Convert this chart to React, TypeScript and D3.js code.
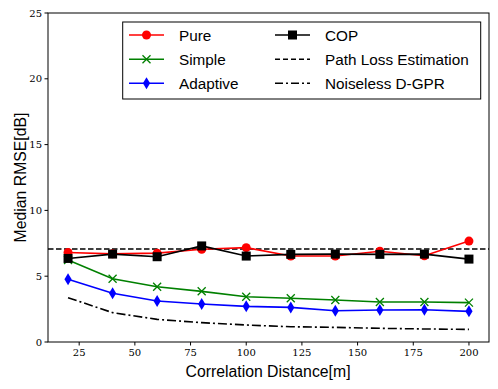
import React from "react";
import * as d3 from "d3";

const xs = [20, 40, 60, 80, 100, 120, 140, 160, 180, 200];
const pure = [6.8, 6.7, 6.75, 7.05, 7.17, 6.53, 6.53, 6.9, 6.55, 7.67];
const cop = [6.35, 6.68, 6.48, 7.3, 6.53, 6.66, 6.68, 6.66, 6.68, 6.3];
const simple = [6.23, 4.81, 4.2, 3.85, 3.44, 3.32, 3.19, 3.04, 3.04, 2.99];
const adaptive = [4.76, 3.7, 3.12, 2.89, 2.71, 2.63, 2.38, 2.43, 2.45, 2.33];
const noiseless = [3.37, 2.23, 1.72, 1.47, 1.29, 1.16, 1.11, 1.04, 0.99, 0.96];
const pathLoss = 7.07;
const xTicks = [25, 50, 75, 100, 125, 150, 175, 200];
const yTicks = [0, 5, 10, 15, 20, 25];

const L = 48, R = 489, T = 13, B = 342;

export default function App() {
  const x = d3.scaleLinear().domain([11, 209]).range([L, R]);
  const y = d3.scaleLinear().domain([0, 25]).range([B, T]);
  const line = (vals: number[]) =>
    d3.line<number>().x((_, i) => x(xs[i])).y((v) => y(v))(vals) || "";
  const serif = "'DejaVu Serif', serif";
  const sans = "'Liberation Sans', Arial, sans-serif";

  const circle = (cx: number, cy: number, k: string) => (
    <circle key={k} cx={cx} cy={cy} r={4.5} fill="red" />
  );
  const square = (cx: number, cy: number, k: string) => (
    <rect key={k} x={cx - 4.5} y={cy - 4.5} width={9} height={9} fill="black" />
  );
  const cross = (cx: number, cy: number, k: string) => (
    <path key={k} d={`M${cx - 4},${cy - 4}L${cx + 4},${cy + 4}M${cx - 4},${cy + 4}L${cx + 4},${cy - 4}`} stroke="green" strokeWidth={1.3} />
  );
  const diamond = (cx: number, cy: number, k: string) => (
    <path key={k} d={`M${cx},${cy - 6}L${cx + 3.6},${cy}L${cx},${cy + 6}L${cx - 3.6},${cy}Z`} fill="blue" />
  );

  const lg = [
    { lab: "Pure", col: "red", dash: "", mk: circle, cx: 129, row: 0 },
    { lab: "Simple", col: "green", dash: "", mk: cross, cx: 129, row: 1 },
    { lab: "Adaptive", col: "blue", dash: "", mk: diamond, cx: 129, row: 2 },
    { lab: "COP", col: "black", dash: "", mk: square, cx: 275, row: 0 },
    { lab: "Path Loss Estimation", col: "black", dash: "5,3", mk: null, cx: 275, row: 1 },
    { lab: "Noiseless D-GPR", col: "black", dash: "8,3,2,3", mk: null, cx: 275, row: 2 },
  ];
  const rowsY = [35, 59.3, 83.3];

  return (
    <svg width={498} height={389} style={{ position: "absolute", left: 0, top: 0 }}>
      <rect width={498} height={389} fill="white" />
      <defs>
        <clipPath id="c"><rect x={L} y={T} width={R - L} height={B - T} /></clipPath>
      </defs>
      <g clipPath="url(#c)">
        <line x1={L} x2={R} y1={y(pathLoss)} y2={y(pathLoss)} stroke="black" strokeWidth={1.6} strokeDasharray="5.5,2.5" />
        <path d={line(noiseless)} fill="none" stroke="black" strokeWidth={1.6} strokeDasharray="9,3,2,3" />
        <path d={line(simple)} fill="none" stroke="green" strokeWidth={1.6} />
        <path d={line(adaptive)} fill="none" stroke="blue" strokeWidth={1.6} />
        <path d={line(pure)} fill="none" stroke="red" strokeWidth={1.6} />
        <path d={line(cop)} fill="none" stroke="black" strokeWidth={1.6} />
        {simple.map((v, i) => cross(x(xs[i]), y(v), "s" + i))}
        {adaptive.map((v, i) => diamond(x(xs[i]), y(v), "a" + i))}
        {pure.map((v, i) => circle(x(xs[i]), y(v), "p" + i))}
        {cop.map((v, i) => square(x(xs[i]), y(v), "c" + i))}
      </g>
      <rect x={L} y={T} width={R - L} height={B - T} fill="none" stroke="black" strokeWidth={1} />
      {xTicks.map((t) => (
        <g key={"xt" + t}>
          <line x1={x(t)} x2={x(t)} y1={B} y2={B + 3.5} stroke="black" />
          <text x={x(t)} y={B + 14} textAnchor="middle" fontFamily={serif} fontSize={10}>{t}</text>
        </g>
      ))}
      {yTicks.map((t) => (
        <g key={"yt" + t}>
          <line x1={L - 3.5} x2={L} y1={y(t)} y2={y(t)} stroke="black" />
          <text x={L - 6} y={y(t) + 3.5} textAnchor="end" fontFamily={serif} fontSize={10}>{t}</text>
        </g>
      ))}
      <text x={(L + R) / 2 - 0.5} y={377} textAnchor="middle" fontFamily={sans} fontSize={15.8}>Correlation Distance[m]</text>
      <text transform={`translate(26,${(T + B) / 2}) rotate(-90)`} textAnchor="middle" fontFamily={sans} fontSize={15.8}>Median RMSE[dB]</text>
      <rect x={122.7} y={22} width={358} height={77} fill="white" stroke="black" strokeWidth={1} />
      {lg.map((d, i) => (
        <g key={"lg" + i}>
          <line x1={d.cx} x2={d.cx + 35} y1={rowsY[d.row]} y2={rowsY[d.row]} stroke={d.col} strokeWidth={1.6} strokeDasharray={d.dash} />
          {d.mk ? d.mk(d.cx + 17.5, rowsY[d.row], "m" + i) : null}
          <text x={d.cx + 50} y={rowsY[d.row] + 5.5} fontFamily={sans} fontSize={15.3}>{d.lab}</text>
        </g>
      ))}
    </svg>
  );
}
